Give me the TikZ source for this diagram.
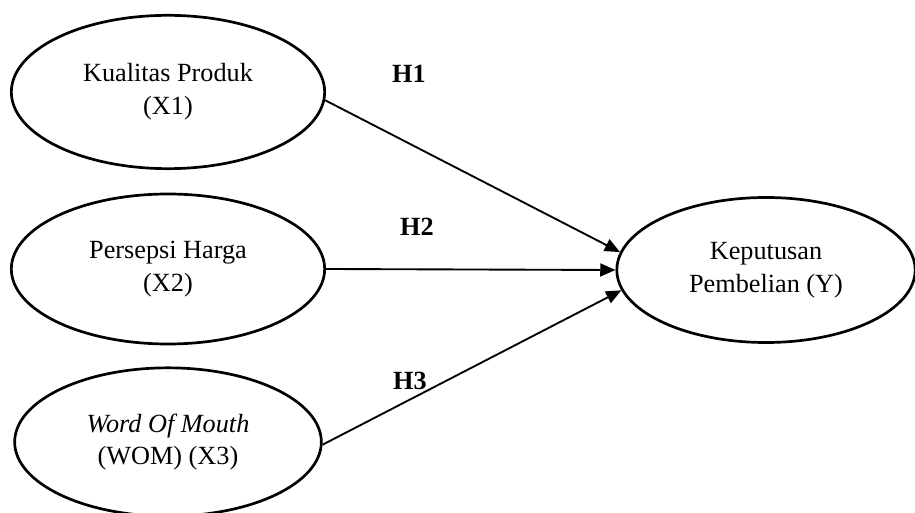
\documentclass[tikz,border=0pt]{standalone}
\usepackage{fontspec}
\setmainfont{Liberation Serif}
\usetikzlibrary{shapes.geometric,arrows.meta}

\begin{document}
\begin{tikzpicture}[x=0.03cm,y=-0.03cm,
  var/.style={ellipse,draw,line width=2.3pt,inner sep=0pt,align=center,
    font=\fontsize{22.4}{28}\selectfont},
  hyp/.style={font=\fontsize{22.4}{28}\selectfont\bfseries},
  path/.style={line width=1.6pt,-{Triangle[length=13pt,width=11pt]}}]
  \useasboundingbox (0,0) rectangle (915,513);
  \node[var,minimum width=9.4cm,minimum height=4.6cm] (x1) at (168,92) {Kualitas Produk\\(X1)};
  \node[var,minimum width=9.4cm,minimum height=4.5cm] (x2) at (168,269) {Persepsi Harga\\(X2)};
  \node[var,minimum width=9.2cm,minimum height=4.45cm] (x3) at (168,442) {\textit{Word Of Mouth}\\(WOM) (X3)};
  \node[var,minimum width=8.95cm,minimum height=4.35cm] (y) at (766,270) {Keputusan\\Pembelian (Y)};
  \draw[path] (x1.-3.5) -- (y.173);
  \draw[path] (x2.east) -- (y.west);
  \draw[path] (x3.-1.5) -- (y.188);
  \node[hyp] (h1) at (409,74) {H1};
  \node[hyp] (h2) at (417,227) {H2};
  \node[hyp] (h3) at (410,381) {H3};
\end{tikzpicture}
\end{document}
